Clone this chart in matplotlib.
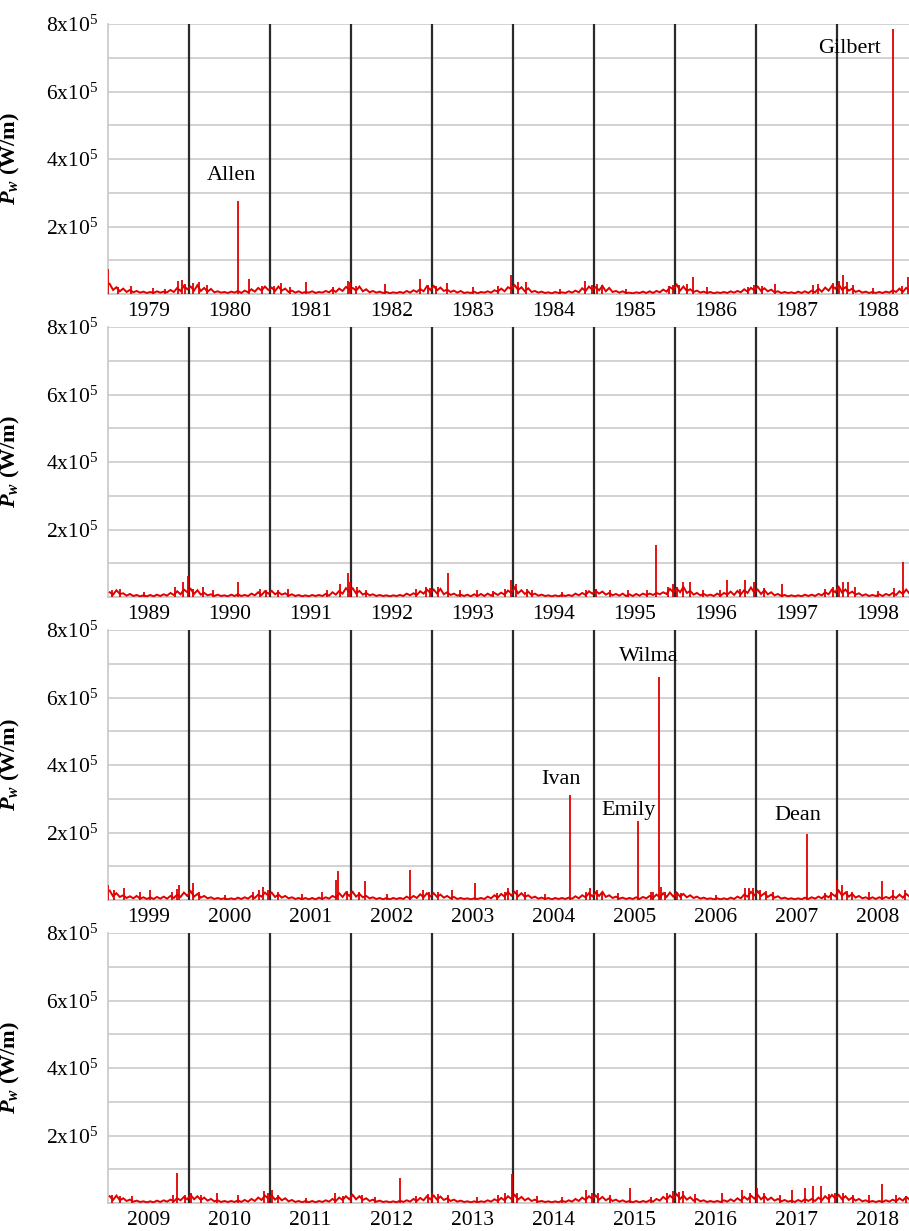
import numpy as np
import matplotlib
matplotlib.use('Agg')
import matplotlib.pyplot as plt

plt.rcParams['font.family'] = ['Liberation Serif', 'DejaVu Serif']
plt.rcParams['mathtext.fontset'] = 'custom'
plt.rcParams['mathtext.rm'] = 'Liberation Serif'
plt.rcParams['mathtext.it'] = 'Liberation Serif:italic:bold'
plt.rcParams['mathtext.bf'] = 'Liberation Serif:bold'

# ---------------- data (P_w in units of 1e4 W/m) ----------------
panel_start_years = [1979, 1989, 1999, 2009]
samples_per_year = 24

base_1979_1988 = [
    3.0,1.2,2.0,0.8,1.6,0.6,1.2,0.5,0.9,0.4,0.7,0.3,0.6,0.3,0.8,0.4,0.7,0.5,1.2,0.6,1.8,0.9,2.4,1.4,
    2.2,1.0,2.6,0.9,1.8,0.7,1.5,0.5,0.8,0.4,0.6,0.3,0.7,0.4,0.9,0.3,1.0,0.5,1.4,0.7,1.8,1.0,2.2,1.2,
    1.9,0.9,2.2,1.0,1.6,0.6,1.0,0.4,0.8,0.3,0.6,0.4,0.8,0.3,0.6,0.4,0.9,0.5,1.3,0.6,1.6,0.9,2.1,1.3,
    1.8,1.0,2.2,0.8,1.4,0.5,0.9,0.4,0.7,0.3,0.6,0.2,0.5,0.3,0.6,0.3,0.9,0.4,1.1,0.6,1.5,0.8,2.3,1.2,
    2.4,1.1,1.9,0.9,1.3,0.6,1.0,0.4,0.9,0.3,0.5,0.3,0.7,0.2,0.6,0.4,0.8,0.4,1.1,0.7,1.6,0.8,2.0,1.5,
    2.6,1.2,2.0,0.8,1.7,0.6,0.9,0.4,0.7,0.3,0.5,0.2,0.6,0.3,0.5,0.3,0.8,0.4,1.0,0.5,1.7,0.9,2.2,1.3,
    2.0,1.1,2.4,0.8,1.8,0.6,0.9,0.4,0.8,0.3,0.4,0.2,0.5,0.3,0.7,0.3,0.8,0.3,0.9,0.5,1.3,0.7,2.0,1.4,
    2.8,1.0,2.2,0.9,1.4,0.6,1.0,0.4,0.7,0.3,0.6,0.2,0.5,0.3,0.6,0.3,0.8,0.4,0.9,0.5,1.4,0.7,1.8,1.1,
    2.2,0.9,1.7,0.8,1.3,0.5,0.8,0.3,0.6,0.3,0.5,0.2,0.7,0.3,0.8,0.3,1.0,0.5,1.6,0.7,1.9,1.0,2.4,1.6,
    2.8,1.3,2.0,1.0,1.6,0.6,1.0,0.4,0.7,0.3,0.6,0.3,0.6,0.3,0.7,0.4,1.1,0.6,1.6,0.6,1.8,1.0,2.2,1.4,
]
base_1989_1998 = [
    1.4,0.7,2.0,0.9,1.1,0.4,0.9,0.3,0.6,0.2,0.5,0.2,0.6,0.2,0.7,0.3,0.8,0.4,1.2,0.6,1.7,0.8,2.2,1.4,
    2.4,0.9,2.0,0.7,1.2,0.5,0.8,0.3,0.7,0.3,0.5,0.2,0.7,0.3,0.8,0.3,0.6,0.3,1.0,0.5,1.4,0.6,1.7,1.0,
    1.8,0.8,1.4,0.7,1.1,0.4,0.8,0.3,0.6,0.2,0.5,0.2,0.6,0.3,0.6,0.3,0.9,0.4,1.4,0.7,1.8,1.0,2.6,1.6,
    2.6,1.1,1.8,0.7,1.2,0.5,0.8,0.3,0.6,0.3,0.5,0.2,0.5,0.3,0.6,0.3,1.0,0.5,1.1,0.6,1.7,1.0,2.2,1.2,
    2.2,1.0,2.4,0.8,1.4,0.6,1.0,0.4,0.7,0.3,0.7,0.2,0.8,0.3,0.9,0.3,1.0,0.4,1.2,0.6,1.3,0.7,1.9,1.2,
    2.8,1.1,2.0,0.9,1.6,0.6,1.0,0.4,0.7,0.3,0.5,0.2,0.5,0.2,0.6,0.3,0.6,0.3,1.0,0.5,1.2,0.6,1.7,1.0,
    1.8,1.0,1.6,0.7,1.2,0.5,0.9,0.4,1.0,0.3,0.8,0.3,0.9,0.4,1.0,0.6,1.0,0.6,1.2,0.8,1.4,0.9,2.4,1.4,
    2.6,1.4,3.0,1.2,1.8,0.7,1.2,0.5,0.9,0.4,0.7,0.3,1.0,0.4,1.2,0.7,1.6,0.6,1.8,0.8,2.0,1.2,2.8,1.3,
    2.2,0.9,2.0,0.8,1.4,0.5,0.9,0.3,0.6,0.2,0.5,0.2,0.5,0.2,0.7,0.3,0.7,0.3,0.9,0.5,1.4,0.8,2.2,1.4,
    3.0,1.3,2.2,1.0,1.6,0.7,1.1,0.4,0.8,0.3,0.6,0.3,0.8,0.3,0.9,0.5,1.2,0.6,1.7,0.9,2.2,1.0,2.4,1.1,
]
base_1999_2008 = [
    2.8,1.1,2.0,0.9,1.4,0.6,1.1,0.5,1.2,0.4,0.8,0.3,0.8,0.3,0.9,0.4,1.0,0.4,1.2,0.6,1.6,0.9,2.2,1.2,
    2.6,1.0,1.8,0.7,1.2,0.5,0.8,0.3,0.6,0.3,0.5,0.2,0.5,0.2,0.7,0.3,0.8,0.4,1.2,0.6,1.6,1.0,2.2,1.3,
    2.2,0.9,1.6,0.7,1.2,0.5,0.8,0.3,0.6,0.2,0.6,0.2,0.6,0.2,0.7,0.3,0.8,0.4,1.2,0.7,2.0,0.9,2.2,1.2,
    2.4,1.0,1.8,0.8,1.2,0.5,0.8,0.3,0.6,0.2,0.6,0.2,0.6,0.3,0.6,0.3,1.0,0.4,1.2,0.6,1.7,0.8,2.0,1.1,
    2.0,0.9,1.6,0.7,1.2,0.5,0.9,0.3,0.6,0.3,0.5,0.2,0.5,0.3,0.6,0.3,1.0,0.5,1.4,0.7,1.8,1.0,2.4,1.3,
    2.4,1.1,2.0,0.9,1.4,0.6,1.0,0.4,0.7,0.3,0.6,0.2,0.6,0.3,0.6,0.3,0.7,0.4,1.1,0.5,1.4,0.8,2.0,1.1,
    2.2,1.2,2.4,0.9,1.4,0.6,1.0,0.4,0.7,0.3,0.6,0.3,0.8,0.3,0.9,0.5,1.2,0.6,1.6,0.8,2.0,0.9,2.2,1.0,
    2.2,1.0,1.8,0.8,1.4,0.6,1.0,0.4,0.7,0.3,0.5,0.2,0.5,0.2,0.5,0.2,0.7,0.3,1.0,0.5,1.6,1.0,2.4,1.4,
    2.6,1.2,2.0,0.9,1.6,0.7,1.1,0.4,0.7,0.3,0.5,0.2,0.5,0.2,0.7,0.3,0.8,0.4,1.0,0.5,1.4,0.8,1.8,1.1,
    2.8,1.3,2.2,1.0,1.8,0.7,1.2,0.5,0.8,0.3,0.8,0.3,0.8,0.4,0.9,0.5,1.2,0.6,1.6,0.7,1.8,1.0,2.2,1.2,
]
base_2009_2018 = [
    2.0,0.9,2.2,0.8,1.4,0.6,1.0,0.4,0.7,0.3,0.5,0.2,0.5,0.2,0.7,0.3,0.8,0.4,1.0,0.5,1.4,0.8,1.8,1.1,
    2.4,1.1,2.0,0.9,1.6,0.7,1.2,0.5,0.8,0.3,0.6,0.3,0.6,0.3,0.8,0.3,0.9,0.4,1.2,0.6,1.6,0.9,2.2,1.3,
    2.2,1.0,1.8,0.8,1.4,0.5,0.9,0.3,0.6,0.2,0.6,0.2,0.6,0.2,0.6,0.3,0.8,0.4,1.2,0.6,1.6,0.9,2.0,1.1,
    2.4,1.1,2.0,0.9,1.4,0.6,1.0,0.4,0.7,0.3,0.5,0.2,0.5,0.2,0.7,0.3,0.8,0.4,1.2,0.6,1.5,0.8,2.0,1.1,
    2.2,1.0,1.9,0.9,1.4,0.6,1.0,0.4,0.7,0.3,0.5,0.2,0.5,0.2,0.5,0.3,0.8,0.4,1.1,0.6,1.5,0.8,2.0,1.2,
    2.4,1.0,1.8,0.8,1.4,0.6,1.0,0.4,0.6,0.3,0.5,0.2,0.5,0.2,0.7,0.3,0.8,0.4,1.2,0.6,1.6,0.9,2.0,1.2,
    2.2,1.0,1.8,0.8,1.4,0.6,1.0,0.4,0.8,0.3,0.6,0.2,0.6,0.2,0.6,0.3,0.8,0.4,1.2,0.7,1.8,1.0,2.2,1.3,
    2.6,1.2,2.2,1.0,1.7,0.7,1.2,0.5,0.8,0.3,0.6,0.3,0.6,0.3,0.8,0.4,1.1,0.5,1.4,0.7,1.8,1.0,2.2,1.3,
    2.4,1.1,2.0,0.9,1.6,0.7,1.2,0.5,0.9,0.4,0.7,0.3,0.9,0.4,1.2,0.6,1.2,0.6,1.6,0.8,2.0,1.1,2.4,1.3,
    2.4,1.1,2.0,0.9,1.6,0.7,1.2,0.5,0.8,0.3,0.6,0.3,0.6,0.3,0.8,0.4,1.0,0.5,1.4,0.7,1.8,1.0,2.2,1.2,
]

# storm / event peaks: time (decimal year) and peak value (1e4 W/m)
peak_t_1979_1988 = [1979.00,1979.12,1979.28,1979.55,1979.70,1979.86,1979.91,1979.95,
    1980.05,1980.12,1980.22,1980.605,1980.74,1980.90,
    1981.05,1981.14,1981.25,1981.45,1981.78,1981.96,1981.99,
    1982.06,1982.42,1982.85,1982.95,
    1983.05,1983.19,1983.50,1983.82,1983.98,
    1984.06,1984.16,1984.58,1984.89,1984.97,
    1985.04,1985.10,1985.40,1985.92,1985.98,
    1986.05,1986.15,1986.22,1986.40,1986.90,1986.98,
    1987.08,1987.24,1987.70,1987.77,1987.95,
    1988.03,1988.07,1988.12,1988.20,1988.45,1988.69,1988.80,1988.88]
peak_v_1979_1988 = [7.5,2.2,2.5,1.8,1.6,3.8,4.2,3.0,
    3.2,3.5,2.6,27.5,4.5,2.4,
    2.5,3.2,2.0,3.5,2.2,4.0,3.6,
    2.4,3.0,4.5,2.8,
    2.5,3.4,2.0,2.4,5.5,
    3.5,3.5,1.5,4.0,2.6,
    3.0,2.8,1.6,2.4,2.8,
    2.6,3.0,5.0,2.0,2.2,2.6,
    2.4,3.0,2.6,3.0,3.4,
    4.0,5.5,3.6,2.6,1.8,78.5,2.5,5.0]

peak_t_1989_1998 = [1989.05,1989.15,1989.45,1989.83,1989.93,1989.99,
    1990.05,1990.17,1990.30,1990.60,1990.88,1990.95,
    1991.10,1991.22,1991.70,1991.86,1991.96,1991.99,
    1992.07,1992.18,1992.80,1992.93,1992.97,
    1993.07,1993.20,1993.35,1993.55,1993.75,1993.90,
    1993.98,1994.04,1994.17,1994.24,1994.60,1994.90,
    1995.03,1995.20,1995.42,1995.65,1995.77,1995.91,1995.97,
    1996.03,1996.10,1996.19,1996.35,1996.55,1996.64,1996.80,1996.87,1996.98,
    1997.10,1997.32,1997.85,1997.95,
    1998.03,1998.07,1998.13,1998.22,1998.50,1998.70,1998.81]
peak_v_1989_1998 = [2.0,2.5,1.6,3.0,4.5,6.3,
    2.5,3.0,2.0,4.5,2.5,2.2,
    2.2,2.5,2.0,4.0,7.0,4.5,
    3.0,2.2,2.5,3.0,2.8,
    3.0,7.0,2.0,2.0,1.8,2.4,
    5.0,4.0,2.5,2.2,1.5,2.2,
    2.5,2.0,2.0,2.0,15.5,3.0,4.0,
    3.0,4.5,4.5,2.0,2.2,5.0,2.5,5.0,4.5,
    2.6,4.0,2.4,3.0,
    3.0,4.5,4.5,3.0,1.8,2.6,10.5]

peak_t_1999_2008 = [1999.00,1999.08,1999.20,1999.40,1999.52,1999.79,1999.85,1999.88,
    2000.05,2000.12,2000.45,2000.79,2000.87,2000.91,2000.98,
    2001.10,2001.40,2001.64,2001.82,2001.84,2001.95,
    2002.00,2002.10,2002.17,2002.45,2002.73,2002.89,2002.96,
    2003.08,2003.25,2003.53,2003.80,2003.90,2003.94,
    2004.05,2004.15,2004.40,2004.70,2004.90,2004.95,
    2005.04,2005.10,2005.30,2005.54,2005.70,2005.73,2005.80,2005.83,2005.88,
    2006.02,2006.08,2006.50,2006.86,2006.91,2006.96,
    2007.05,2007.12,2007.21,2007.63,2007.85,2007.93,
    2008.00,2008.06,2008.12,2008.18,2008.40,2008.55,2008.69,2008.84]
peak_v_1999_2008 = [4.5,3.0,3.5,2.5,3.0,2.5,3.4,4.5,
    5.0,2.4,1.6,2.5,3.0,4.0,3.0,
    2.4,1.8,2.5,6.0,8.5,2.6,
    2.8,2.5,5.5,1.8,9.0,3.0,2.4,
    2.5,3.0,5.0,2.2,2.5,3.5,
    3.0,2.5,1.8,31.0,2.5,3.5,
    3.0,2.5,2.0,23.3,2.4,2.5,66.0,4.0,2.5,
    2.5,2.2,1.6,3.5,3.5,3.5,
    3.0,2.8,2.5,19.5,2.2,2.4,
    6.0,4.5,2.6,2.5,2.5,5.5,3.0,3.0]

peak_t_2009_2018 = [2009.05,2009.15,2009.30,2009.80,2009.85,2009.95,
    2010.02,2010.15,2010.35,2010.60,2010.92,2010.97,
    2011.03,2011.10,2011.45,2011.80,2011.90,
    2012.00,2012.14,2012.30,2012.60,2012.80,2012.95,
    2013.00,2013.08,2013.20,2013.55,2013.82,2013.90,2013.99,
    2014.05,2014.30,2014.60,2014.90,2014.97,
    2015.05,2015.20,2015.45,2015.70,2015.90,2015.97,
    2016.05,2016.10,2016.25,2016.58,2016.83,2016.93,
    2017.01,2017.10,2017.30,2017.45,2017.60,2017.70,2017.80,2017.90,2017.97,
    2018.08,2018.20,2018.40,2018.55,2018.73,2018.85]
peak_v_2009_2018 = [2.5,2.2,2.0,2.4,8.8,2.5,
    3.0,2.5,3.0,2.5,3.5,3.0,
    4.0,2.5,1.6,3.0,2.2,
    2.5,2.5,1.8,7.5,2.0,2.6,
    3.0,2.6,2.5,1.8,2.5,3.0,8.5,
    3.0,2.0,1.8,4.0,3.0,
    3.0,2.5,4.5,1.8,3.0,3.5,
    3.2,3.5,2.6,3.0,4.0,3.0,
    4.5,3.0,2.5,4.0,4.5,5.0,5.0,2.8,3.0,
    3.0,2.5,2.5,5.5,2.5,2.2]

storm_names = ['Allen', 'Gilbert', 'Ivan', 'Emily', 'Wilma', 'Dean']
storm_panel = [0, 0, 2, 2, 2, 2]
storm_label_x = [1980.53, 1988.15, 2004.59, 2005.43, 2005.68, 2007.52]
storm_label_y = [3.5, 7.28, 3.58, 2.66, 7.22, 2.5]   # 1e5 W/m

bases = [base_1979_1988, base_1989_1998, base_1999_2008, base_2009_2018]
peak_ts = [peak_t_1979_1988, peak_t_1989_1998, peak_t_1999_2008, peak_t_2009_2018]
peak_vs = [peak_v_1979_1988, peak_v_1989_1998, peak_v_1999_2008, peak_v_2009_2018]

ytick_vals = [2, 4, 6, 8]

# ---------------- figure ----------------
W, H = 909, 1231
fig = plt.figure(figsize=(W / 100, H / 100), dpi=100)
red = '#e00000'

ax_left, ax_w, ax_h = 108, 810, 270
tops = [24, 327, 630, 933]

axes = []
for p in range(4):
    ax = fig.add_axes([ax_left / W, 1 - (tops[p] + ax_h) / H, ax_w / W, ax_h / H])
    axes.append(ax)
    y0 = panel_start_years[p]
    base = np.array(bases[p]) * 1e4
    t = y0 + (np.arange(len(base)) + 0.5) / samples_per_year
    ax.plot(t, base, color=red, lw=1.4, zorder=4, solid_joinstyle='miter')
    ax.vlines(np.array(peak_ts[p]), 0, np.array(peak_vs[p]) * 1e4, color=red, lw=1.3, zorder=4)

    ax.set_xlim(y0, y0 + 10)
    ax.set_ylim(0, 8e5)

    # year boundaries
    ax.vlines(np.arange(y0 + 1, y0 + 10), 0, 8e5, color='#2a2a2a', lw=1.6, zorder=3)

    # horizontal grid
    ax.set_yticks(np.arange(0, 9) * 1e5)
    ax.set_yticklabels(['' if v not in ytick_vals else r'$\mathregular{%dx10^{5}}$' % v
                        for v in range(9)])
    ax.yaxis.grid(True, color='#cfcfcf', lw=1.3, zorder=0)
    ax.set_axisbelow(True)

    ax.set_xticks(np.arange(y0, y0 + 10) + 0.5)
    ax.set_xticklabels([str(y) for y in range(y0, y0 + 10)])
    ax.tick_params(axis='both', length=0, labelsize=15.5)
    ax.tick_params(axis='x', pad=6)
    ax.tick_params(axis='y', pad=7)

    for s in ['top', 'right']:
        ax.spines[s].set_visible(False)
    for s in ['left', 'bottom']:
        ax.spines[s].set_color('#c8c8c8')
        ax.spines[s].set_linewidth(1.2)

    ax.set_ylabel(r'$P_{w}$ (W/m)', fontsize=16, fontweight='bold')
    ax.yaxis.set_label_coords((22 - ax_left) / ax_w, 0.5)

for name, p, x, y in zip(storm_names, storm_panel, storm_label_x, storm_label_y):
    axes[p].text(x, y * 1e5, name, ha='center', va='center', fontsize=16, zorder=5)

fig.savefig('out.png', dpi=100)
